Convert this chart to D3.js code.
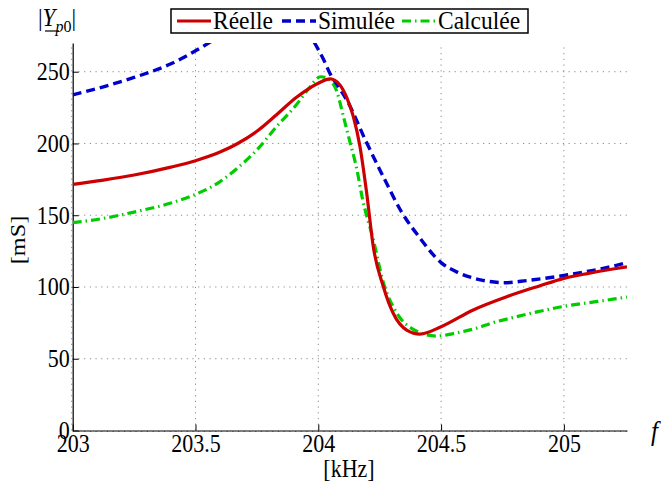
<!DOCTYPE html>
<html>
<head>
<meta charset="utf-8">
<script src="https://cdn.jsdelivr.net/npm/d3@7"></script>
<style>
  html, body { margin: 0; padding: 0; background: #fff; }
  svg { display: block; }
  svg text { font-family: "Liberation Serif", "Times New Roman", Tinos, "DejaVu Serif", serif; fill: #000; }
</style>
</head>
<body>
<svg id="chart" width="664" height="484"></svg>
<script>
// ---- data ----
const xTicks = [203, 203.5, 204, 204.5, 205];
const xTickLabels = ["203", "203.5", "204", "204.5", "205"];
const yTicks = [0, 50, 100, 150, 200, 250];
const yTickLabels = ["0", "50", "100", "150", "200", "250"];
const seriesNames = ["Réelle", "Simulée", "Calculée"];

const reelleF = [203.00, 203.125, 203.25, 203.40, 203.50, 203.60, 203.67, 203.75, 203.83, 203.91, 204.00, 204.048, 204.088, 204.116, 204.143, 204.17, 204.197, 204.224, 204.265, 204.305, 204.36, 204.414, 204.50, 204.631, 204.767, 204.90, 205.00, 205.10, 205.20, 205.257];
const reelleV = [171.5, 174.5, 178, 183.5, 188, 194, 199.8, 208.5, 220, 232, 242, 245, 240.8, 232, 218.5, 197.6, 165.5, 128, 100.2, 81.7, 70, 67.2, 72.3, 84, 93.2, 100.7, 106, 109.5, 112.5, 114];

const simuleeF = [203.00, 203.125, 203.25, 203.40, 203.52, 203.60, 203.75, 203.85, 203.93, 203.985, 204.02, 204.05, 204.08, 204.12, 204.19, 204.27, 204.34, 204.41, 204.50, 204.57, 204.66, 204.76, 204.85, 205.00, 205.10, 205.20, 205.257];
const simuleeV = [233.8, 239.5, 246, 255.5, 266.5, 275, 292, 296, 285, 270, 259, 248, 240, 229, 203, 175, 152, 135, 117, 110, 105, 103, 104.5, 108, 111, 114.5, 117];

const calculeeF = [203.00, 203.125, 203.25, 203.40, 203.50, 203.60, 203.67, 203.75, 203.83, 203.91, 203.96, 204.01, 204.04, 204.076, 204.102, 204.129, 204.157, 204.178, 204.224, 204.265, 204.319, 204.387, 204.482, 204.563, 204.658, 204.70, 204.80, 204.90, 205.00, 205.10, 205.20, 205.257];
const calculeeV = [144.8, 147.8, 152.2, 158.5, 164.5, 173.4, 182.7, 195.5, 211.7, 226.8, 238, 246.5, 245, 236, 219, 201, 182, 163, 133, 103, 82, 70.5, 65.8, 68, 72, 74.5, 79, 83, 86.5, 89, 91.5, 93];

// ---- layout ----
const svg = d3.select("#chart");
const FONT = '"Liberation Serif", "Times New Roman", Tinos, "DejaVu Serif", serif';
const SY = 1.1; // slight vertical stretch of glyphs, as in the reference
const L = 72.7, R = 627, T = 43, B = 430.5;
const x = d3.scaleLinear().domain([203, 205.257]).range([L, R]);
const y = d3.scaleLinear().domain([0, 270]).range([B, T]);

const gridColor = "#8a8a8a";
const grid = svg.append("g");
xTicks.forEach(t => {
  const off = t === 203 ? -1 : 0;
  grid.append("line")
    .attr("x1", x(t) + off).attr("x2", x(t) + off)
    .attr("y1", B).attr("y2", T)
    .attr("stroke", gridColor).attr("stroke-width", 1)
    .attr("stroke-dasharray", "1.2,4.5");
});
yTicks.forEach(t => {
  const off = t === 0 ? 1 : 0;
  grid.append("line")
    .attr("x1", L).attr("x2", R)
    .attr("y1", y(t) + off).attr("y2", y(t) + off)
    .attr("stroke", gridColor).attr("stroke-width", 1)
    .attr("stroke-dasharray", "1.2,4.5");
});

const xAxis = d3.axisBottom(x).tickValues(xTicks).tickSizeInner(-6).tickSizeOuter(0)
  .tickFormat((d, i) => xTickLabels[i]).tickPadding(9);
const yAxis = d3.axisLeft(y).tickValues(yTicks).tickSizeInner(-6).tickSizeOuter(0)
  .tickFormat((d, i) => yTickLabels[i]).tickPadding(3);

const gx = svg.append("g").attr("transform", `translate(0,${B})`).call(xAxis);
const gy = svg.append("g").attr("transform", `translate(${L},0)`).call(yAxis);
[gx, gy].forEach(g => {
  g.attr("font-family", FONT).attr("font-size", 22);
  g.select(".domain").attr("stroke", "#000").attr("stroke-width", 1.2);
  g.selectAll(".tick line").attr("stroke", "#000").attr("stroke-width", 1);
  g.selectAll(".tick text").attr("font-size", 22).attr("fill", "#000");
});
gx.selectAll(".tick text").each(function () {
  const t = d3.select(this);
  const yy = +t.attr("y");
  t.attr("y", 0).attr("dy", "0.5em").attr("transform", `translate(0,${yy}) scale(1,${SY})`);
});
gy.selectAll(".tick text").each(function () {
  const t = d3.select(this);
  const xx = +t.attr("x");
  t.attr("x", 0).attr("dy", "0.33em").attr("transform", `translate(${xx},0) scale(1,${SY})`);
});

svg.append("defs").append("clipPath").attr("id", "plotclip")
  .append("rect").attr("x", L).attr("y", T).attr("width", R - L).attr("height", B - T);

const line = d3.line().x(d => x(d[0])).y(d => y(d[1])).curve(d3.curveMonotoneX);
const series = [
  { f: calculeeF, v: calculeeV, color: "#00cc00", dash: "9,4,1.5,4", w: 3.2 },
  { f: simuleeF, v: simuleeV, color: "#0000cc", dash: "9,5", w: 3.4 },
  { f: reelleF, v: reelleV, color: "#cc0000", dash: null, w: 3.2 },
];
const gl = svg.append("g").attr("clip-path", "url(#plotclip)");
series.forEach(s => {
  const p = gl.append("path")
    .datum(s.f.map((f, i) => [f, s.v[i]]))
    .attr("d", line)
    .attr("fill", "none")
    .attr("stroke", s.color)
    .attr("stroke-width", s.w);
  if (s.dash) p.attr("stroke-dasharray", s.dash);
});

function stretchedText(px, py, size) {
  return svg.append("text")
    .attr("transform", `translate(${px},${py}) scale(1,${SY})`)
    .attr("font-family", FONT).attr("font-size", size);
}

stretchedText(349, 477, 22).attr("text-anchor", "middle").text("[kHz]");
svg.append("text").attr("transform", `translate(25,240) rotate(-90) scale(${SY},1)`)
  .attr("font-family", FONT).attr("text-anchor", "middle").attr("font-size", 22).text("[mS]");
stretchedText(651, 440, 25).attr("font-style", "italic").text("f");

const yl = stretchedText(38, 26, 23);
yl.append("tspan").text("|");
yl.append("tspan").attr("font-style", "italic").text("Y");
yl.append("tspan").attr("font-style", "italic").attr("font-size", 16).attr("dy", 5).text("p");
yl.append("tspan").attr("font-size", 16).text("0");
yl.append("tspan").attr("font-size", 23).attr("dy", -5).text("|");
svg.append("line").attr("x1", 45).attr("x2", 59).attr("y1", 31).attr("y2", 31)
  .attr("stroke", "#000").attr("stroke-width", 1.2);

const lg = svg.append("g");
lg.append("rect").attr("x", 171).attr("y", 9).attr("width", 357).attr("height", 24)
  .attr("fill", "#fff").attr("stroke", "#000").attr("stroke-width", 1.5);
const legItems = [
  { name: seriesNames[0], x0: 177, x1: 211, tx: 213, s: series[2] },
  { name: seriesNames[1], x0: 282, x1: 316, tx: 318, s: series[1] },
  { name: seriesNames[2], x0: 402, x1: 435, tx: 438, s: series[0] },
];
legItems.forEach(it => {
  const l = lg.append("line").attr("x1", it.x0).attr("x2", it.x1).attr("y1", 21).attr("y2", 21)
    .attr("stroke", it.s.color).attr("stroke-width", it.s.w);
  if (it.s.dash) l.attr("stroke-dasharray", it.s.dash);
  lg.append("text")
    .attr("transform", `translate(${it.tx},28.5) scale(1,${SY})`)
    .attr("font-family", FONT).attr("font-size", 23.5).text(it.name);
});
</script>
</body>
</html>
